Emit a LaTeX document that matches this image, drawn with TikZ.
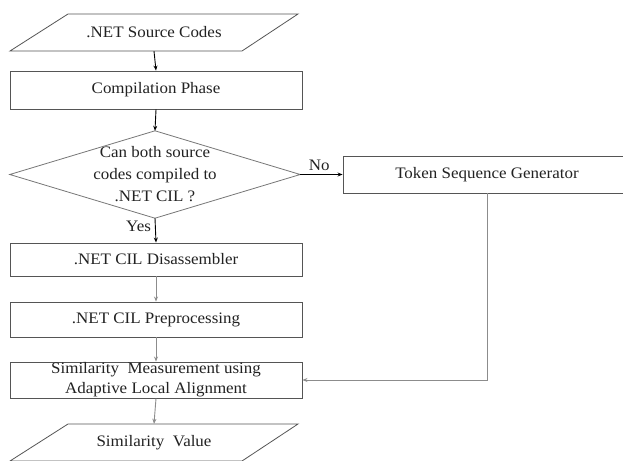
\documentclass[tikz,border=0pt]{standalone}
\usepackage{fontspec}
\setmainfont{Liberation Serif}[FakeStretch=1.06]
\usetikzlibrary{arrows.meta}
\definecolor{edge}{HTML}{555555}
\definecolor{lightline}{HTML}{8C8C8C}
\definecolor{txt}{HTML}{222222}
\tikzset{
  box/.style={draw=edge, line width=0.9pt, rectangle, minimum width=292pt, inner sep=0pt, align=center, text=txt},
  plain/.style={inner sep=0pt, align=center, text=txt},
  shapeline/.style={draw=edge, line width=0.8pt},
  darrow/.style={draw=black, line width=0.9pt, -{Stealth[length=5pt,width=4pt]}},
  garrow/.style={draw=lightline, line width=0.9pt, -{Stealth[length=5pt,width=4pt]}},
  lbl/.style={inner sep=0pt, text=txt}
}
\begin{document}
\begin{tikzpicture}[x=1pt, y=-1pt, font=\fontsize{16}{20}\selectfont]
\clip (0,0) rectangle (623,460);
\fill[white] (0,0) rectangle (623,460);

% input parallelogram
\node[plain, minimum width=230pt, minimum height=37pt] (src) at (154,32.5) {.NET Source Codes};
\draw[shapeline] (68,14) -- (298,14) -- (242,51) -- (10,51) -- cycle;

\node[box, minimum height=38pt] (comp) at (156,90) {Compilation Phase};

% decision diamond
\node[plain, minimum width=290pt, minimum height=87pt, font=\fontsize{16}{22}\selectfont] (dec) at (155,174.5) {Can both source\\codes compiled to\\.NET CIL ?};
\draw[shapeline, draw=edge!80] (dec.north) -- (dec.east) -- (dec.south) -- (dec.west) -- cycle;

\node[box, minimum width=288pt, minimum height=37pt] (tok) at (487,174.5) {Token Sequence Generator};

\node[box, minimum height=33pt] (dis) at (156,259.5) {.NET CIL Disassembler};
\node[box, minimum height=35pt] (pre) at (156,319.5) {.NET CIL Preprocessing};
\node[box, minimum height=36pt] (sim) at (156,380) {Similarity\ \ Measurement using\\Adaptive Local Alignment};

% output parallelogram
\node[plain, minimum width=230pt, minimum height=37pt] (out) at (154,442.5) {Similarity\ \ Value};
\draw[shapeline] (68,424) -- (298,424) -- (242,461) -- (10,461) -- cycle;

% connectors
\draw[darrow] (src.south) -- (comp.north);
\draw[darrow] (comp.south) -- (dec.north);
\draw[darrow] (dec.east) -- (tok.west) node[lbl, pos=0.45, above=3pt] {No};
\draw[darrow] (dec.south) -- (dis.north) node[lbl, pos=0.35, left=4pt] {Yes};
\draw[garrow] (dis.south) -- (pre.north);
\draw[garrow] (pre.south) -- (sim.north);
\draw[garrow] (sim.south) -- (out.north);
\draw[garrow] (tok.south) |- (sim.east);
\end{tikzpicture}
\end{document}
